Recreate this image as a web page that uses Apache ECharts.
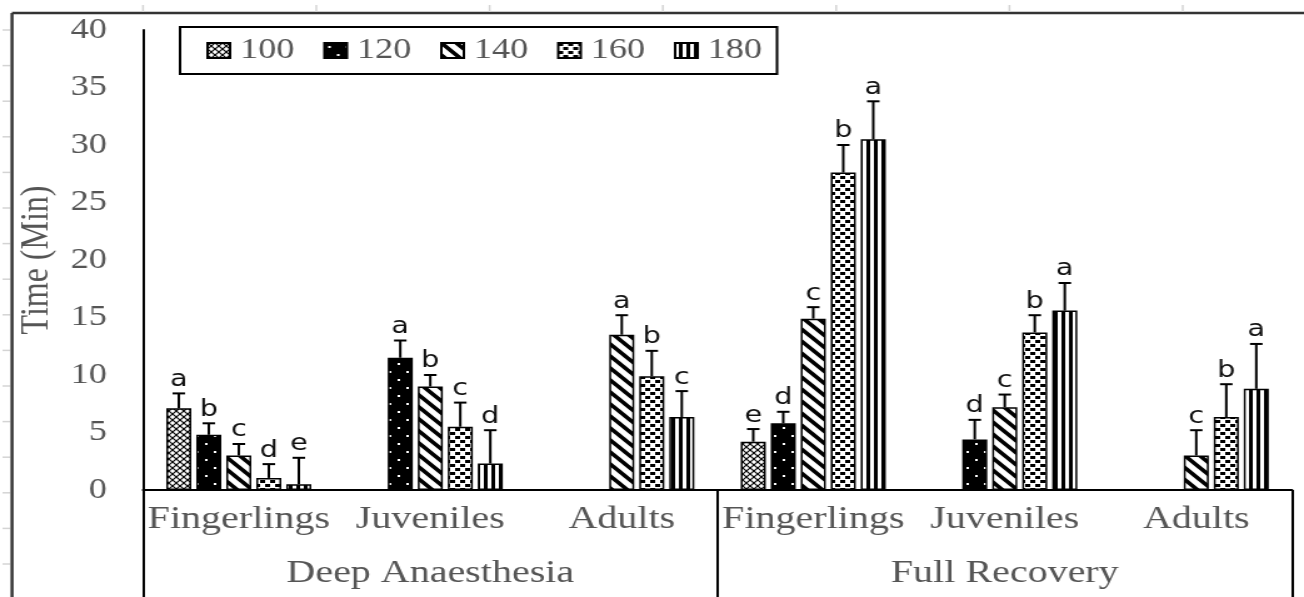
<!DOCTYPE html>
<html><head><meta charset="utf-8">
<script src="https://cdn.jsdelivr.net/npm/echarts@6/dist/echarts.min.js"></script>
<style>
html,body{margin:0;padding:0;background:#fff;overflow:hidden}
#wrap{width:1304px;height:597px;overflow:hidden;position:relative;background:#fff}
#chart{width:1043px;height:597px;transform:scaleX(1.250240);transform-origin:0 0;}
</style></head><body><div id="wrap"><div id="chart"></div></div>
<script>
// ---- data ----
const categories = ['Fingerlings','Juveniles','Adults','Fingerlings','Juveniles','Adults'];
const groups = ['Deep Anaesthesia','Full Recovery'];
const seriesNames = ['100','120','140','160','180'];
const yTicks = {min:0, max:40, interval:5};

const v100 = [7.1, null, null, 4.2, null, null];
const v120 = [4.8, 11.5, null, 5.8, 4.4, null];
const v140 = [3.0, 9.0, 13.5, 14.9, 7.2, 3.0];
const v160 = [1.05, 5.5, 9.9, 27.6, 13.7, 6.35];
const v180 = [0.5, 2.3, 6.35, 30.5, 15.6, 8.8];

const e100 = [1.3, null, null, 1.1, null, null];
const e120 = [1.0, 1.5, null, 1.0, 1.7, null];
const e140 = [1.0, 1.0, 1.7, 1.0, 1.1, 2.2];
const e160 = [1.2, 2.1, 2.2, 2.4, 1.5, 2.85];
const e180 = [2.3, 2.9, 2.25, 3.3, 2.4, 3.9];

const l100 = ['a','','','e','',''];
const l120 = ['b','a','','d','d',''];
const l140 = ['c','b','a','c','c','c'];
const l160 = ['d','c','b','b','b','b'];
const l180 = ['e','d','c','a','a','a'];

const values = [v100, v120, v140, v160, v180];
const errors = [e100, e120, e140, e160, e180];
const letters = [l100, l120, l140, l160, l180];

// ---- patterns ----
function tile(w,h,draw){const c=document.createElement('canvas');c.width=w;c.height=h;const g=c.getContext('2d');draw(g,w,h);return c;}
const pats = [
  tile(6,6,(g,w,h)=>{g.fillStyle='#fff';g.fillRect(0,0,w,h);g.strokeStyle='#000';g.lineWidth=1.2;g.beginPath();g.moveTo(0,0);g.lineTo(6,6);g.moveTo(6,0);g.lineTo(0,6);g.stroke();}),
  tile(14,16,(g,w,h)=>{g.fillStyle='#000';g.fillRect(0,0,w,h);g.fillStyle='#fff';g.fillRect(3,3,2,2);g.fillRect(10,11,2,2);}),
  tile(12,12,(g,w,h)=>{g.fillStyle='#fff';g.fillRect(0,0,w,h);g.strokeStyle='#000';g.lineWidth=3.6;g.beginPath();for(const o of [-12,0,12]){g.moveTo(o-3,-3);g.lineTo(o+15,15);}g.stroke();}),
  tile(8,8,(g,w,h)=>{g.fillStyle='#fff';g.fillRect(0,0,w,h);g.fillStyle='#000';g.fillRect(0,0,4,3);g.fillRect(4,4,4,3);}),
  tile(6,4,(g,w,h)=>{g.fillStyle='#fff';g.fillRect(0,0,w,h);g.fillStyle='#000';g.fillRect(3,0,3,h);})
];

const BAR_W = 20, BAR_GAP = 4, STEP = BAR_W + BAR_GAP, CAP = 10;
const SERIF = '"Liberation Serif", "Times New Roman", serif';
const GRAY = '#555555';

const chart = echarts.init(document.getElementById('chart'), null, {renderer:'canvas', width:1043, height:597});

const barSeries = seriesNames.map((n,si)=>({
  type:'bar', name:n, data: values[si].map(v=> v==null ? '-' : v),
  barWidth: BAR_W, barGap: (BAR_GAP/BAR_W*100)+'%',
  itemStyle:{color:{image:pats[si], repeat:'repeat'}, borderColor:'#000', borderWidth:1.5},
  emphasis:{disabled:true}, z:2
}));

const errSeries = seriesNames.map((n,si)=>({
  type:'custom', name:'err'+n, silent:true, z:5,
  data: values[si].map((v,i)=> [i, v==null?NaN:v, errors[si][i]==null?NaN:errors[si][i]]),
  encode:{x:0, y:1},
  renderItem(params, api){
    const v = api.value(1); const e = api.value(2);
    if (v==null || isNaN(v)) return null;
    const i = api.value(0);
    const base = api.coord([i, v]);
    const top = api.coord([i, v+e]);
    const x = base[0] + (si-2)*STEP;
    return {type:'group', children:[
      {type:'line', shape:{x1:x,y1:base[1],x2:x,y2:top[1]}, style:{stroke:'#000',lineWidth:2}},
      {type:'line', shape:{x1:x-CAP/2,y1:top[1],x2:x+CAP/2,y2:top[1]}, style:{stroke:'#000',lineWidth:2}},
      {type:'text', style:{text:letters[si][params.dataIndex], x:x, y:top[1]-2, align:'center', verticalAlign:'bottom', fontFamily:'"DejaVu Sans", sans-serif', fontSize:23, fill:'#111'}}
    ]};
  }
}));

// frame decoration (outer chart-area border and faint ticks)
const frame = [
  {type:'line', shape:{x1:9.6,y1:13,x2:1043,y2:13}, style:{stroke:'#333',lineWidth:2.4}},
  {type:'line', shape:{x1:9.6,y1:13,x2:9.6,y2:597}, style:{stroke:'#333',lineWidth:2.4}}
];
for (let k=0;k<16;k++) frame.push({type:'line', shape:{x1:2,y1:30+k*35.6,x2:8,y2:30+k*35.6}, style:{stroke:'#d4d4d4',lineWidth:1.5}});
for (let k=0;k<7;k++) frame.push({type:'line', shape:{x1:114.4+k*138.6,y1:5,x2:114.4+k*138.6,y2:12}, style:{stroke:'#d4d4d4',lineWidth:1.5}});

chart.setOption({
  animation:false,
  backgroundColor:'#fff',
  grid:{left:114.4, right:9.6, top:30, bottom:107, containLabel:false},
  legend:{
    data: seriesNames, left:144, top:27, orient:'horizontal', icon:'rect',
    itemWidth:18, itemHeight:15, itemGap:23,
    padding:[9,12,9,21], borderColor:'#000', borderWidth:2,
    textStyle:{fontFamily:SERIF, fontSize:29, color:GRAY, padding:[0,0,0,3]},
    selectedMode:false
  },
  xAxis:[
    {type:'category', data:categories, position:'bottom',
     axisLine:{show:true, lineStyle:{color:'#000', width:2}},
     axisTick:{show:false},
     axisLabel:{interval:0, margin:14, fontFamily:SERIF, fontSize:32, color:GRAY},
     splitLine:{show:false}},
    {type:'category', data:groups, position:'bottom', offset:0,
     axisLine:{show:false},
     axisTick:{show:true, length:107, lineStyle:{color:'#000', width:2}},
     axisLabel:{interval:0, margin:68, fontFamily:SERIF, fontSize:32, color:GRAY},
     splitLine:{show:false}}
  ],
  yAxis:{type:'value', min:yTicks.min, max:yTicks.max, interval:yTicks.interval,
    name:'Time (Min)', nameLocation:'middle', nameGap:67, nameRotate:90,
    nameTextStyle:{fontFamily:SERIF, fontSize:32, color:GRAY},
    axisLine:{show:true, lineStyle:{color:'#000', width:2}},
    axisTick:{show:false}, splitLine:{show:false},
    axisLabel:{margin:29, fontFamily:SERIF, fontSize:29, color:GRAY}},
  graphic: frame,
  series: [...barSeries, ...errSeries]
});
</script></body></html>
